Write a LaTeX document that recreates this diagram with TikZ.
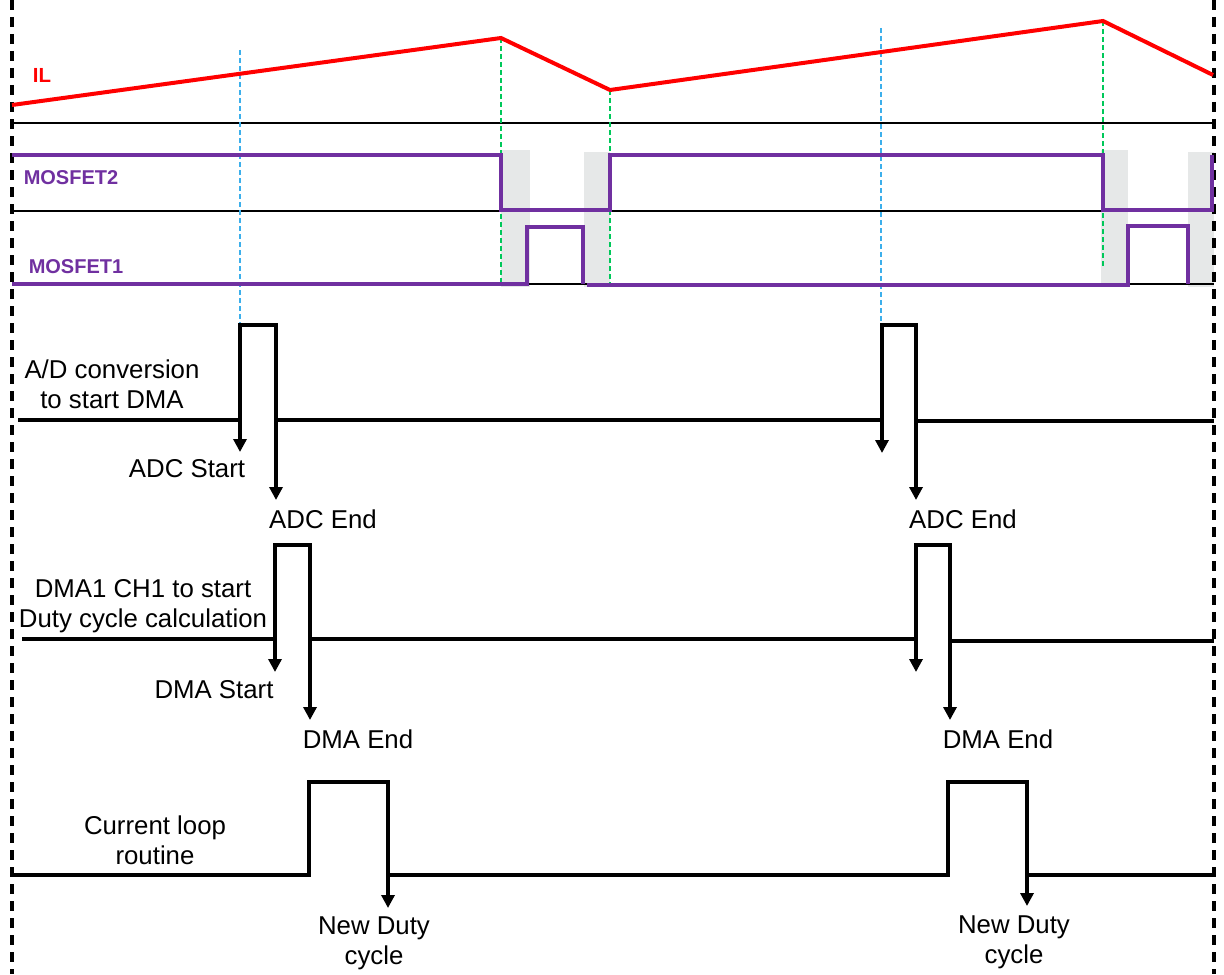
\documentclass[tikz,border=0pt]{standalone}
\usepackage{fontspec}
\setmainfont{Liberation Sans}
\usetikzlibrary{arrows.meta}
\definecolor{ilred}{RGB}{255,0,0}
\definecolor{mospurple}{RGB}{112,48,160}
\definecolor{shade}{RGB}{230,232,232}
\definecolor{gdash}{RGB}{0,200,90}
\definecolor{bdash}{RGB}{60,175,235}
\tikzset{
  border/.style={black, line width=1.6pt, dash pattern=on 5pt off 3.5pt},
  axis/.style={black, line width=0.55pt},
  ilwave/.style={ilred, line width=2pt, line join=miter},
  moswave/.style={mospurple, line width=1.8pt, line join=miter},
  sig/.style={black, line width=1.8pt, line join=miter},
  evt/.style={black, line width=1.8pt, -{Triangle[length=6.5pt,width=6.5pt]}},
  gmark/.style={gdash, line width=0.65pt, dash pattern=on 2.5pt off 1.5pt},
  bmark/.style={bdash, line width=0.65pt, dash pattern=on 2.5pt off 1.5pt},
  wlabel/.style={ilred, font=\fontsize{10.2}{12}\selectfont\bfseries, inner sep=0pt},
  mlabel/.style={mospurple, font=\fontsize{10}{12}\selectfont\bfseries, inner sep=0pt},
  txt/.style={font=\fontsize{12.9}{15.2}\selectfont, align=center, inner sep=0pt},
  gray box/.style={fill=shade, draw=none}
}
\begin{document}
\begin{tikzpicture}[x=0.5pt,y=-0.5pt]
\useasboundingbox (0,0) rectangle (1224,974);
% gray dead-time areas
\fill[gray box] (501,150) rectangle (530,287);
\fill[gray box] (584,152) rectangle (610,287);
\fill[gray box] (1101,150) rectangle (1128,287);
\fill[gray box] (1188,152) rectangle (1214,287);
% axes
\draw[axis] (12,123) -- (1214,123);
\draw[axis] (12,211) -- (1214,211);
\draw[axis] (12,284) -- (1214,284);
% marker lines
\draw[gmark] (501,38) -- (501,283);
\draw[gmark] (610,90) -- (610,283);
\draw[gmark] (1103,21) -- (1103,268);
\draw[bmark] (240,50) -- (240,325);
\draw[bmark] (881,28) -- (881,325);
% borders
\draw[border] (12,0) -- (12,974);
\draw[border] (1214,0) -- (1214,974);
% IL
\draw[ilwave] (12,105) -- (501,38) -- (610,90) -- (1103,21) -- (1213,75);
\node[wlabel] (il) at (42,75) {IL};
% MOSFET2
\draw[moswave] (12,155) -- (501,155) -- (501,210) -- (610,210) -- (610,155) -- (1103,155) -- (1103,210) -- (1212,210) -- (1212,155);
\node[mlabel] (m2) at (71,178) {MOSFET2};
% MOSFET1
\draw[moswave] (12,284) -- (527,284) -- (527,227) -- (583,227) -- (583,284);
\draw[moswave] (587,285) -- (1128,285) -- (1128,226) -- (1188,226) -- (1188,284);
\node[mlabel] (m1) at (76,267) {MOSFET1};
% ADC row
\draw[sig] (18,420) -- (240,420) -- (240,325) -- (276,325) -- (276,420) -- (882,420) -- (882,325) -- (916,325) -- (916,421) -- (1214,421);
\coordinate (as1) at (240,420); \coordinate (as1e) at (240,452);
\coordinate (ae1) at (276,420); \coordinate (ae1e) at (276,500);
\coordinate (as2) at (882,420); \coordinate (as2e) at (882,453);
\coordinate (ae2) at (916,421); \coordinate (ae2e) at (916,500);
\draw[evt] (as1) -- (as1e);
\draw[evt] (ae1) -- (ae1e);
\draw[evt] (as2) -- (as2e);
\draw[evt] (ae2) -- (ae2e);
\node[txt] (adclbl) at (112,384) {A/D conversion\\to start DMA};
\node[txt] (adcs) at (187,469) {ADC Start};
\node[txt] (adce1) at (323,519) {ADC End};
\node[txt] (adce2) at (963,519) {ADC End};
% DMA row
\draw[sig] (22,639) -- (275,639) -- (275,545) -- (310,545) -- (310,639) -- (916,639) -- (916,545) -- (950,545) -- (950,641) -- (1214,641);
\coordinate (ds1) at (275,639); \coordinate (ds1e) at (275,672);
\coordinate (de1) at (310,639); \coordinate (de1e) at (310,720);
\coordinate (ds2) at (916,639); \coordinate (ds2e) at (916,672);
\coordinate (de2) at (950,641); \coordinate (de2e) at (950,720);
\draw[evt] (ds1) -- (ds1e);
\draw[evt] (de1) -- (de1e);
\draw[evt] (ds2) -- (ds2e);
\draw[evt] (de2) -- (de2e);
\node[txt] (dmalbl) at (143,606) {DMA1 CH1 to start\\Duty cycle calculation};
\node[txt] (dmas) at (214,690) {DMA Start};
\node[txt] (dmae1) at (358,739) {DMA End};
\node[txt] (dmae2) at (998,739) {DMA End};
% Current loop row
\draw[sig] (12,875) -- (309,875) -- (309,782) -- (388,782) -- (388,875) -- (948,875) -- (948,782) -- (1027,782) -- (1027,875) -- (1214,875);
\coordinate (nd1) at (388,875); \coordinate (nd1e) at (388,908);
\coordinate (nd2) at (1027,875); \coordinate (nd2e) at (1027,906);
\draw[evt] (nd1) -- (nd1e);
\draw[evt] (nd2) -- (nd2e);
\node[txt] (cllbl) at (155,840) {Current loop\\routine};
\node[txt] (ndc1) at (374,943) {New Duty\\cycle};
\node[txt] (ndc2) at (1014,942) {New Duty\\cycle};
\end{tikzpicture}
\end{document}
